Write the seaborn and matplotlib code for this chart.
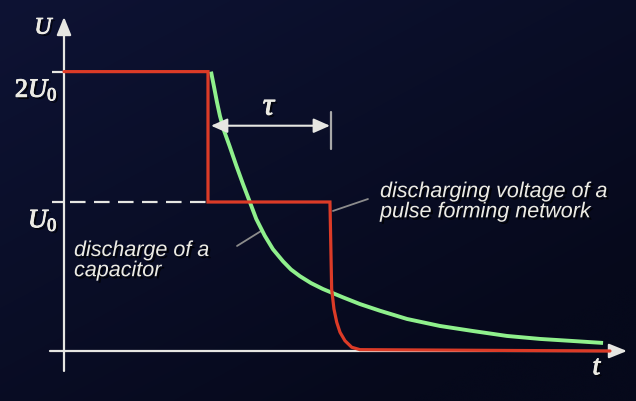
import numpy as np
import pandas as pd
import matplotlib
matplotlib.use("Agg")
import matplotlib.pyplot as plt
import seaborn as sns
from matplotlib import patheffects as pe
from matplotlib.patches import FancyArrowPatch

# ---------------- data (t in units of tau, U in units of U0) ----------------
pulse_t = [0.0, 1.190, 1.190, 2.198, 2.212, 2.231, 2.254, 2.281, 2.322, 2.378, 2.446, 4.512]
pulse_u = [1.875, 1.875, 1.0, 1.0, 0.416, 0.282, 0.193, 0.126, 0.069, 0.025, 0.009, 0.0]

cap_t = [1.215, 1.240, 1.264, 1.289, 1.322, 1.368, 1.424, 1.479, 1.535, 1.589, 1.659,
         1.727, 1.810, 1.876, 1.950, 2.041, 2.140, 2.306, 2.446, 2.612, 2.835, 3.107,
         3.380, 3.661, 3.934, 4.207, 4.455]
cap_u = [1.875, 1.772, 1.671, 1.577, 1.480, 1.376, 1.244, 1.121, 1.002, 0.886, 0.774,
         0.683, 0.602, 0.547, 0.502, 0.456, 0.416, 0.360, 0.315, 0.270, 0.215, 0.168,
         0.134, 0.101, 0.081, 0.067, 0.054]

level_values = [1.875, 1.0]
level_labels = [r"$2U_0$", r"$U_0$"]
tau_start, tau_end = 1.215, 2.198

# ---------------- style ----------------
sns.set_theme(style="dark")
plt.rcParams["font.family"] = ["Liberation Sans", "DejaVu Sans"]
plt.rcParams["mathtext.fontset"] = "custom"
plt.rcParams["mathtext.rm"] = "Liberation Serif"
plt.rcParams["mathtext.it"] = "Liberation Serif:italic"
plt.rcParams["mathtext.bf"] = "Liberation Serif:bold"

RED = "#dc3b27"
GREEN = "#8ff08c"
WHITE = "#e6e6e2"
TXT = "#ecebe4"
GRAY = "#8c8c8c"

fig = plt.figure(figsize=(6.36, 4.02), dpi=100)
ax = fig.add_axes([0, 0, 1, 1])
xlim = (-64 / 121, (636 - 64) / 121)
ylim = (-50 / 149, 352 / 149)

# background gradient
ny, nx = 200, 320
yy, xx = np.mgrid[0:1:ny * 1j, 0:1:nx * 1j]
c_light = np.array([14, 19, 52]) / 255.0
c_dark = np.array([6, 9, 27]) / 255.0
w = np.clip(0.55 * xx + 0.65 * yy, 0, 1)[..., None]
img = c_light * (1 - w) + c_dark * w
ax.imshow(img, extent=(xlim[0], xlim[1], ylim[0], ylim[1]), origin="upper",
          aspect="auto", zorder=0, interpolation="bicubic")

shadow = [pe.withSimplePatchShadow(offset=(1.6, -1.6), shadow_rgbFace="black", alpha=0.75)]
bold_shadow = [pe.withSimplePatchShadow(offset=(1.6, -1.6), shadow_rgbFace="black", alpha=0.75),
               pe.withStroke(linewidth=0.7, foreground=TXT)]

# axes with arrows
ax.add_patch(FancyArrowPatch((0, -0.134), (0, 2.242), arrowstyle="-|>,head_length=0.42,head_width=0.17",
                             mutation_scale=26, color=WHITE, lw=1.6, shrinkA=0, shrinkB=0, zorder=3))
ax.add_patch(FancyArrowPatch((-0.116, 0), (4.653, 0), arrowstyle="-|>,head_length=0.42,head_width=0.17",
                             mutation_scale=26, color=WHITE, lw=1.6, shrinkA=0, shrinkB=0, zorder=3))

# level ticks and labels
for v, lab in zip(level_values, level_labels):
    ax.plot([-0.102, 0], [v, v], color=WHITE, lw=1.6, zorder=3, solid_capstyle="butt")
    ax.text(-0.052, v - 0.125, lab, ha="right", va="center", fontsize=19, color=TXT,
            path_effects=bold_shadow, zorder=5)

# dashed U0 line
ax.plot([0.05, 1.19], [level_values[1], level_values[1]], color=WHITE, lw=1.6,
        dashes=(7, 3.8), zorder=3)

# curves via seaborn
df_pulse = pd.DataFrame({"t": pulse_t, "U": pulse_u})
df_cap = pd.DataFrame({"t": cap_t, "U": cap_u})
sns.lineplot(data=df_cap, x="t", y="U", sort=False, estimator=None, color=GREEN,
             lw=2.8, ax=ax, zorder=4, solid_joinstyle="round", solid_capstyle="butt")
sns.lineplot(data=df_pulse, x="t", y="U", sort=False, estimator=None, color=RED,
             lw=2.3, ax=ax, zorder=5, solid_joinstyle="miter")
ax.set_xlim(*xlim)
ax.set_ylim(*ylim)
ax.set_axis_off()

# tau arrow
ax.add_patch(FancyArrowPatch((tau_start, 1.512), (tau_end, 1.512),
                             arrowstyle="<|-|>,head_length=0.45,head_width=0.2",
                             mutation_scale=22, color=WHITE, lw=1.5, shrinkA=0, shrinkB=0, zorder=6))
ax.plot([2.207, 2.207], [1.356, 1.604], color="#a8a8a8", lw=1.6, zorder=6)
ax.text(1.702, 1.640, r"$\tau$", ha="center", va="center", fontsize=23, color=TXT,
        path_effects=bold_shadow, zorder=6)

# axis names
ax.text(-0.160, 2.170, r"$U$", ha="center", va="center", fontsize=17, color=TXT,
        path_effects=bold_shadow, zorder=6)
ax.text(4.410, -0.110, r"$t$", ha="center", va="center", fontsize=20, color=TXT,
        path_effects=bold_shadow, zorder=6)

# annotations
ax.plot([2.223, 2.512], [0.940, 1.020], color=GRAY, lw=1.3, zorder=3)
ax.text(2.612, 1.140, "discharging voltage of a\npulse forming network", ha="left", va="top",
        fontsize=15.5, style="italic", color=TXT, linespacing=0.95, path_effects=shadow, zorder=6)
ax.plot([1.430, 1.628], [0.705, 0.805], color=GRAY, lw=1.3, zorder=3)
ax.text(0.083, 0.745, "discharge of a\ncapacitor", ha="left", va="top",
        fontsize=15.5, style="italic", color=TXT, linespacing=0.95, path_effects=shadow, zorder=6)

fig.savefig("out.png", dpi=100)
